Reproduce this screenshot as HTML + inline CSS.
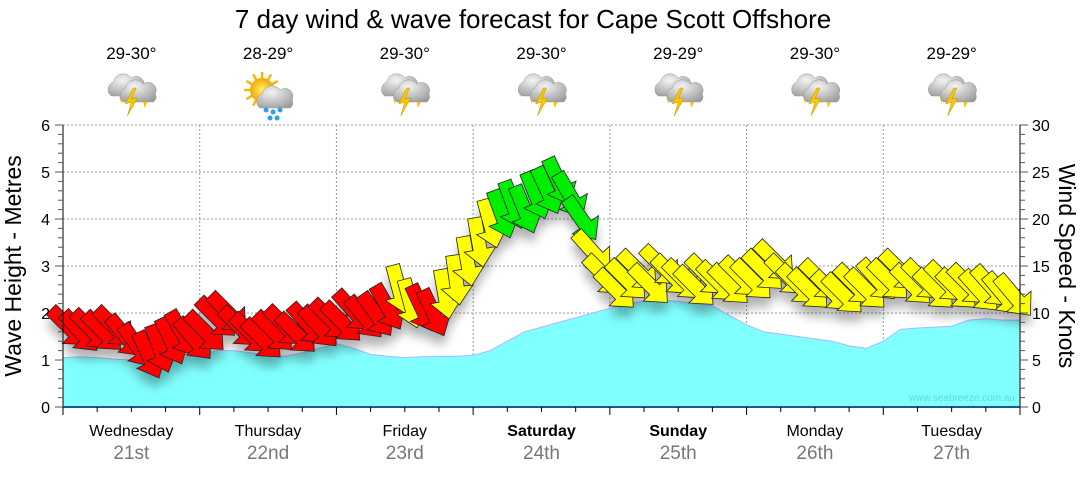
<!DOCTYPE html>
<html><head><meta charset="utf-8">
<style>
body{margin:0;background:#fff;width:1080px;height:475px;overflow:hidden;font-family:"Liberation Sans",sans-serif}
svg text{font-family:"Liberation Sans",sans-serif}
</style></head><body>
<svg id="chart" width="1080" height="475" xmlns="http://www.w3.org/2000/svg">
<defs>
<filter id="sh" x="-50%" y="-50%" width="200%" height="200%"><feGaussianBlur stdDeviation="5"/></filter>
<radialGradient id="cloudG" cx="0.4" cy="0.3" r="0.8"><stop offset="0" stop-color="#f4f4f4"/><stop offset="1" stop-color="#9a9a9a"/></radialGradient>
<radialGradient id="sunG" cx="0.5" cy="0.5" r="0.5"><stop offset="0" stop-color="#fff36a"/><stop offset="1" stop-color="#f2a900"/></radialGradient>
</defs>
<text x="533" y="28" font-size="26" text-anchor="middle" fill="#000">7 day wind &amp; wave forecast for Cape Scott Offshore</text>
<g id="icons"></g>
<g id="grid"></g>
<path id="wave" fill="#80ffff" stroke="#aab8ff" stroke-width="1"/>
<g id="shadow" filter="url(#sh)" opacity="0.3"></g>
<g id="arrows"></g>
<g id="axes"></g>
<text x="1015" y="401" font-size="10" text-anchor="end" fill="#5fd6e0">www.seabreeze.com.au</text>
<text transform="translate(21,266) rotate(-90)" font-size="23" text-anchor="middle" fill="#000">Wave Height - Metres</text>
<text transform="translate(1059,266) rotate(90)" font-size="23" text-anchor="middle" fill="#000">Wind Speed - Knots</text>
</svg>
<script>
const days=["Wednesday","Thursday","Friday","Saturday","Sunday","Monday","Tuesday"];
const dates=["21st","22nd","23rd","24th","25th","26th","27th"];
const temps=["29-30°","28-29°","29-30°","29-30°","29-29°","29-30°","29-29°"];
const icons=["storm","sunrain","storm","storm","storm","storm","storm"];
const waveHeights=[1.05,1.07,1.05,1.02,1.0,0.98,1.0,1.05, 1.1,1.2,1.2,1.15,1.1,1.08,1.15,1.25, 1.35,1.25,1.12,1.08,1.05,1.07,1.08,1.08, 1.1,1.2,1.4,1.6,1.7,1.8,1.9,2.0, 2.1,2.2,2.25,2.27,2.25,2.2,2.15,1.95, 1.75,1.6,1.55,1.5,1.45,1.4,1.3,1.25, 1.4,1.65,1.68,1.7,1.72,1.85,1.88,1.85,1.85];
const windSpeeds=[8.5,8.0,8.2,8.0,8.5,7.5,6.5,5.5,6.2,7.0,7.8,7.2, 8.0,9.5,10.0,8.5,7.8,7.2,8.0,8.6,7.8,8.8,8.5,9.3, 9.0,10.2,9.5,9.8,10.6,12.5,11.0,10.5,10.0,12.0,13.5,15.5, 17.5,19.5,20.5,21.5,21.0,22.5,23.0,24.0,22.5,20.0,16.5,14.0, 12.5,13.5,14.5,13.0,15.0,14.0,13.5,12.8,14.0,13.3,13.0,13.8, 13.5,14.5,15.5,14.0,13.0,12.5,13.5,12.3,12.0,13.0,12.5,13.5, 13.5,14.5,13.0,13.5,12.5,13.3,12.5,13.0,12.3,12.8,12.0,11.8];
const windDirs=[315,318,315,315,315,320,325,335,340,335,330,320, 315,315,315,315,315,315,315,315,315,318,318,315, 315,318,320,325,330,345,345,335,335,350,352,350, 350,345,340,340,338,338,335,335,330,325,318,315, 315,315,315,315,315,315,315,315,315,315,315,315, 315,315,315,315,315,315,315,315,315,315,315,318, 315,315,315,315,315,315,315,315,318,318,320,320];
const leftTicks=[0,1,2,3,4,5,6];
const rightTicks=[0,5,10,15,20,25,30];

const X0=63,X1=1020,YB=407,YT=125,DW=(X1-X0)/7;
const xDay=d=>X0+d*DW;
const yM=m=>YB-(m/6)*(YB-YT);
const yK=k=>YB-(k/30)*(YB-YT);
const NS="http://www.w3.org/2000/svg";
function mk(tag,attrs,parent){const e=document.createElementNS(NS,tag);for(const k in attrs)e.setAttribute(k,attrs[k]);parent.appendChild(e);return e;}
const grid=document.getElementById('grid'),axes=document.getElementById('axes');
for(const v of leftTicks){if(v===0)continue;const l=mk('line',{x1:X0,x2:X1,y1:yM(v),y2:yM(v),stroke:'#999','stroke-dasharray':'2,2','stroke-width':1},grid);

}
for(let d=1;d<7;d++){const l=mk('line',{x1:xDay(d),x2:xDay(d),y1:YT,y2:YB,stroke:'#999','stroke-dasharray':'2,2'},grid);

}
let p='M'+X0+','+YB;
waveHeights.forEach((h,i)=>{p+=' L'+(X0+i*DW/8).toFixed(1)+','+yM(h).toFixed(1);});
p+=' L'+X1+','+YB+' Z';
document.getElementById('wave').setAttribute('d',p);
mk('line',{x1:X0,x2:X0,y1:YT,y2:YB,stroke:'#000'},axes);
mk('line',{x1:X1,x2:X1,y1:YT,y2:YB,stroke:'#000'},axes);
mk('line',{x1:X0,x2:X1,y1:YB,y2:YB,stroke:'#1a5a8a','stroke-width':2},axes);
for(let i=0;i<=30;i++){const y=yM(i*0.2);mk('line',{x1:X0-(i%5==0?8:5),x2:X0,y1:y,y2:y,stroke:'#555'},axes);}
for(let i=0;i<=30;i++){const y=yK(i);mk('line',{x1:X1,x2:X1+(i%5==0?8:5),y1:y,y2:y,stroke:'#555'},axes);}
leftTicks.forEach(v=>{const t=mk('text',{x:50,y:yM(v)+6,'font-size':16,'text-anchor':'end',fill:'#000'},axes);t.textContent=v;

});
rightTicks.forEach(v=>{const t=mk('text',{x:1032,y:yK(v)+6,'font-size':16,fill:'#000'},axes);t.textContent=v;

});
for(let i=0;i<=28;i++){const x=X0+i*DW/4;mk('line',{x1:x,x2:x,y1:YB,y2:YB+(i%4==0?8:5),stroke:'#000'},axes);}
days.forEach((d,i)=>{const cx=xDay(i)+DW/2;const bold=(d==="Saturday"||d==="Sunday");
const t=mk('text',{x:cx,y:436,'font-size':16,'text-anchor':'middle',fill:'#000','font-weight':bold?'bold':'normal'},axes);t.textContent=d;


const t2=mk('text',{x:cx,y:459,'font-size':19,'text-anchor':'middle',fill:'#777'},axes);t2.textContent=dates[i];


const t3=mk('text',{x:cx,y:59,'font-size':17,'text-anchor':'middle',fill:'#000'},axes);t3.textContent=temps[i];

});
const ig=document.getElementById('icons');
function cloud(g,x,y,s){mk('path',{d:`M${x-14*s},${y+8*s} a8,8 0 0 1 2,-14 a10,10 0 0 1 18,-4 a8,8 0 0 1 12,10 a6,6 0 0 1 -2,8 Z`,fill:'url(#cloudG)',stroke:'#999','stroke-width':0.5},g);}
icons.forEach((k,i)=>{const cx=xDay(i)+DW/2;const g=mk('g',{},ig);


if(k==="storm"){cloud(g,cx-6,88,1);
mk('polygon',{points:`${cx-12},96 ${cx-8},96 ${cx-10},104`,fill:'#f5c400'},g);
cloud(g,cx+6,94,1);
mk('polygon',{points:`${cx+2},88 ${cx-6},104 ${cx},102 ${cx-4},116 ${cx+6},98 ${cx},99 ${cx+5},88`,fill:'#f8c800',stroke:'#c89000','stroke-width':0.5},g);
mk('polygon',{points:`${cx+12},102 ${cx+16},102 ${cx+13},108`,fill:'#f5c400'},g);}
else{for(let a=0;a<12;a++){const an=a*Math.PI/6;mk('line',{x1:cx-6+Math.cos(an)*10,y1:90+Math.sin(an)*10,x2:cx-6+Math.cos(an)*18,y2:90+Math.sin(an)*18,stroke:'#f5b800','stroke-width':2.5},g);}
mk('circle',{cx:cx-6,cy:90,r:12,fill:'url(#sunG)'},g);
cloud(g,cx+6,100,1);
[[-2,110],[5,112],[12,110],[2,118],[9,118]].forEach(q=>mk('circle',{cx:cx+q[0],cy:q[1],r:2.5,fill:'#2aa0e8'},g));}
});
const ag=document.getElementById('arrows'),sg=document.getElementById('shadow');
const shape="-25,-7 7,-7 7,-16 25,0 7,16 7,7 -25,7";
windSpeeds.forEach((s,i)=>{const x=X0+(i+0.5)*DW/12,y=yK(s);
const c=(windDirs[i]+180)%360;const ang=Math.atan2(-Math.cos(c*Math.PI/180),Math.sin(c*Math.PI/180))*180/Math.PI;
const col=s<11?'#ff0000':(s<20?'#ffff00':'#00ee00');
mk('polygon',{points:shape,transform:`translate(${x.toFixed(1)},${(y+10).toFixed(1)}) rotate(${ang.toFixed(1)})`,fill:'#000'},sg);
const a=mk('polygon',{points:shape,transform:`translate(${x.toFixed(1)},${y.toFixed(1)}) rotate(${ang.toFixed(1)})`,fill:col,stroke:'#222','stroke-width':0.8},ag);

});
</script>
</body></html>
